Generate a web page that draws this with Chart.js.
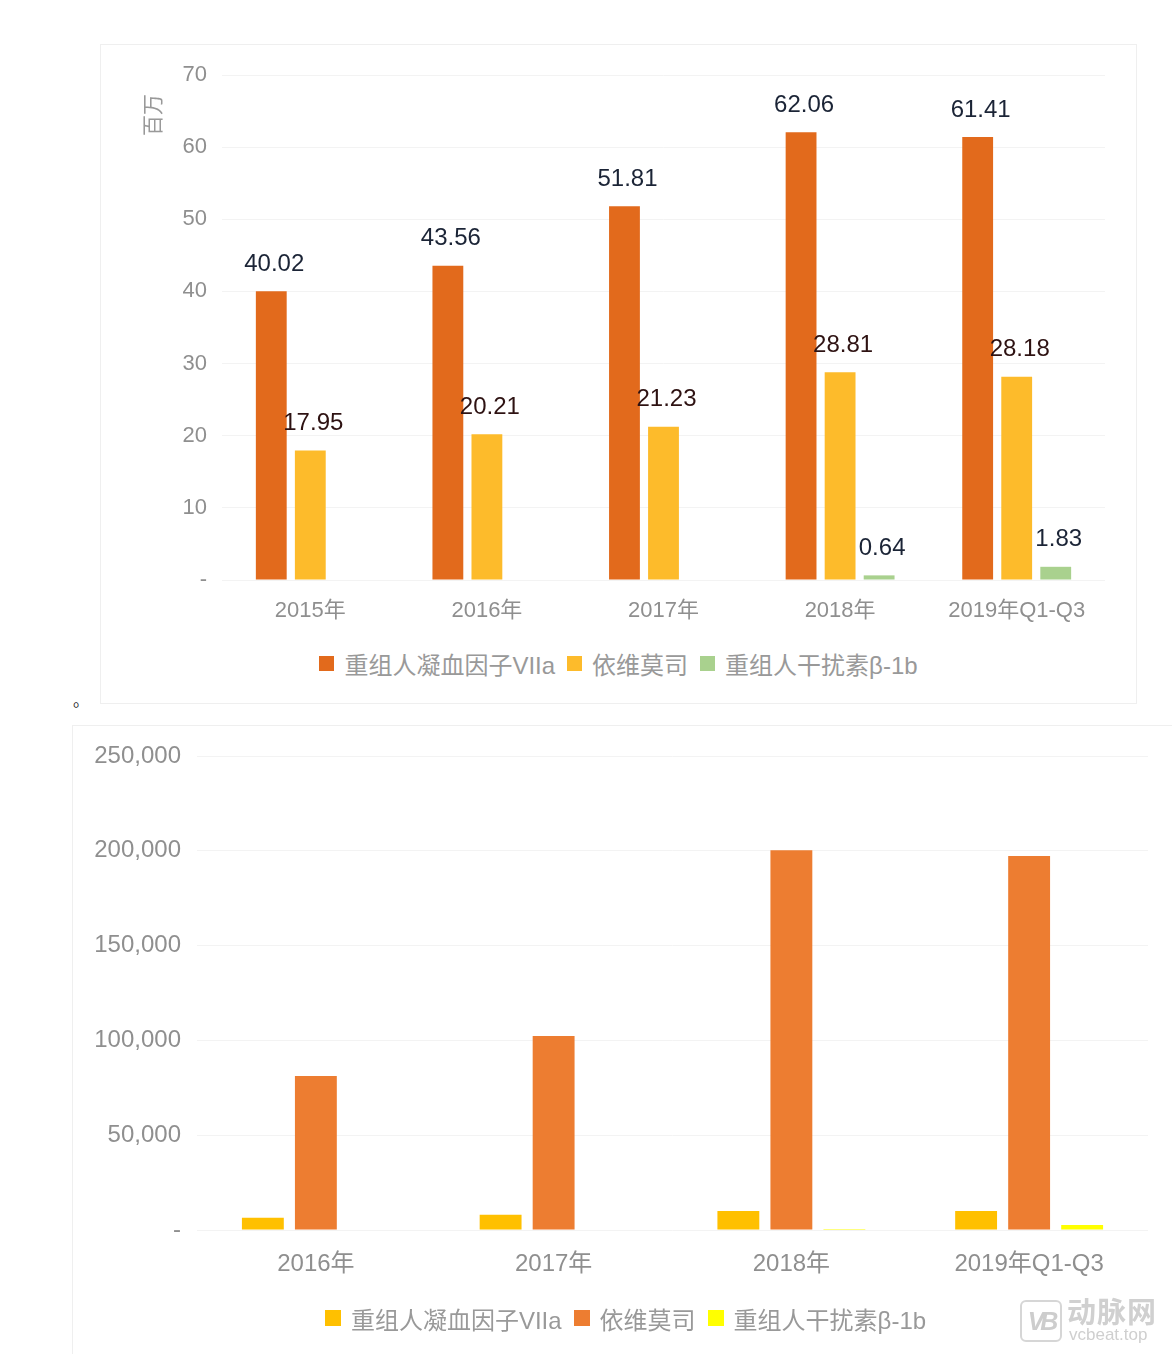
<!DOCTYPE html>
<html>
<head>
<meta charset="utf-8">
<script src="https://cdn.jsdelivr.net/npm/chart.js@4"></script>
<style>
    html, body { margin: 0; padding: 0; background: #fff; width: 1172px; height: 1354px; overflow: hidden; position: relative; font-family: "Liberation Sans", Arial, "Noto Sans CJK SC", sans-serif; }
    .box { position: absolute; border: 1px solid #efefef; box-sizing: border-box; }
    .wrap { position: absolute; }
    .legend-list { position: absolute; display: flex; justify-content: center; align-items: center; color: #999; }
    .legend-list li { list-style: none; display: flex; align-items: center; white-space: nowrap; }
    .legend-list .box-c { display: inline-block; }
    .dot { position: absolute; left: 73px; top: 687px; font-size: 16px; color: #222; font-family: "Noto Sans CJK SC", sans-serif; }
    .mark { position: absolute; left: 1020px; top: 1299px; width: 150px; height: 44px; color: #cfcfcf; }
    .mark .logo { position: absolute; left: 0; top: 1px; width: 42px; height: 42px; border: 2px solid #d6d6d6; border-radius: 6px; box-sizing: border-box; font: bold italic 25px "Liberation Sans", sans-serif; color: #cdcdcd; text-align: center; line-height: 38px; letter-spacing: -4px; }
    .mark .cn { position: absolute; left: 47px; top: -10px; font: bold 29px "Noto Sans CJK SC", sans-serif; color: #d0d0d0; letter-spacing: 1px; }
    .mark .en { position: absolute; left: 49px; top: 26px; font: 17px "Liberation Sans", sans-serif; color: #cfcfcf; }
</style>
</head>
<body>
<div class="box" style="left:100px; top:44px; width:1037px; height:660px;"></div>
<div class="wrap" style="left:100px; top:44px; width:1037px; height:600px;"><canvas id="topChart"></canvas></div>
<ul class="legend-list top" style="left:100px; top:648px; width:1037px; height:30px; margin:0; padding:0; font-size:24px;"></ul>

<span class="dot">。</span>

<div class="box" style="left:72px; top:725px; width:1107px; height:660px;"></div>
<div class="wrap" style="left:72px; top:725px; width:1100px; height:580px;"><canvas id="bottomChart"></canvas></div>
<ul class="legend-list bottom" style="left:72px; top:1303px; width:1107px; height:30px; margin:0; padding:0; font-size:24px;"></ul>

<div class="mark"><div class="logo">VB</div><div class="cn">动脉网</div><div class="en">vcbeat.top</div></div>

<script>
// 상단 차트 데이터 (백만)
const topLabels = ['2015年', '2016年', '2017年', '2018年', '2019年Q1-Q3'];
const topFactor7 = [40.02, 43.56, 51.81, 62.06, 61.41];
const topEverolimus = [17.95, 20.21, 21.23, 28.81, 28.18];
const topInterferon = [null, null, null, 0.64, 1.83];
const topSeriesNames = ['重组人凝血因子VIIa', '依维莫司', '重组人干扰素β-1b'];
const topTicks = [0, 10, 20, 30, 40, 50, 60, 70];

// 하단 차트 데이터
const bottomLabels = ['2016年', '2017年', '2018年', '2019年Q1-Q3'];
const bottomFactor7 = [6500, 8100, 10000, 10000];
const bottomEverolimus = [81200, 102300, 200300, 197300];
const bottomInterferon = [null, null, 500, 2600];
const bottomSeriesNames = ['重组人凝血因子VIIa', '依维莫司', '重组人干扰素β-1b'];
const bottomTicks = [0, 50000, 100000, 150000, 200000, 250000];

const topColors = ['#E26A1C', '#FDBB2B', '#A9D18E'];
const topLabelColors = ['#1b2436', '#2e1212', '#1b2436'];
const bottomColors = ['#FFC000', '#ED7D31', '#FFFF00'];

const tickGrey = '#8f8f8f';

// 막대 위 값 표시
const valueLabelPlugin = {
    id: 'valueLabels',
    afterDatasetsDraw(chart) {
        const ctx = chart.ctx;
        chart.data.datasets.forEach((ds, i) => {
            const meta = chart.getDatasetMeta(i);
            meta.data.forEach((bar, j) => {
                const v = ds.data[j];
                if (v === null || v === undefined) return;
                ctx.save();
                ctx.font = '24px "Liberation Sans", Arial, sans-serif';
                ctx.fillStyle = topLabelColors[i];
                ctx.textAlign = 'center';
                ctx.textBaseline = 'middle';
                ctx.fillText(v.toFixed(2), bar.x + 3, bar.y - 27);
                ctx.restore();
            });
        });
    }
};

// 세로축 단위 (百万)
const unitTitlePlugin = {
    id: 'unitTitle',
    afterDraw(chart) {
        const ctx = chart.ctx;
        ctx.save();
        ctx.translate(52, 71);
        ctx.rotate(-Math.PI / 2);
        ctx.font = '21px "Noto Sans CJK SC", sans-serif';
        ctx.fillStyle = '#999';
        ctx.textAlign = 'center';
        ctx.textBaseline = 'middle';
        ctx.fillText('百万', 0, 0);
        ctx.restore();
    }
};

function buildLegend(selector, names, colors, boxSize) {
    const list = document.querySelector(selector);
    list.innerHTML = '';
    names.forEach((name, index) => {
        const li = document.createElement('li');
        const box = document.createElement('span');
        box.className = 'box-c';
        box.style.width = boxSize + 'px';
        box.style.height = boxSize + 'px';
        box.style.backgroundColor = colors[index];
        box.style.marginRight = '10px';
        const title = document.createElement('span');
        title.innerText = name;
        title.style.fontFamily = '"Liberation Sans", Arial, "Noto Sans CJK SC", sans-serif';
        li.appendChild(box);
        li.appendChild(title);
        if (index < names.length - 1) li.style.marginRight = '12px';
        list.appendChild(li);
    });
}

Chart.defaults.font.family = '"Liberation Sans", Arial, "Noto Sans CJK SC", sans-serif';
Chart.defaults.animation = false;

new Chart(document.getElementById('topChart'), {
    type: 'bar',
    data: {
        labels: topLabels,
        datasets: [
            { label: topSeriesNames[0], data: topFactor7, backgroundColor: topColors[0] },
            { label: topSeriesNames[1], data: topEverolimus, backgroundColor: topColors[1] },
            { label: topSeriesNames[2], data: topInterferon, backgroundColor: topColors[2] },
        ],
    },
    options: {
        responsive: true,
        maintainAspectRatio: false,
        layout: { padding: { top: 31, right: 32, left: 0, bottom: 0 } },
        datasets: { bar: { categoryPercentage: 0.663, barPercentage: 0.79 } },
        plugins: { legend: { display: false }, tooltip: { enabled: false } },
        scales: {
            x: {
                grid: { display: false },
                border: { display: false },
                ticks: { color: tickGrey, font: { size: 22 }, padding: 10, maxRotation: 0 },
                afterFit: scale => { scale.height = 64; },
            },
            y: {
                min: 0,
                max: 70,
                afterBuildTicks: scale => { scale.ticks = topTicks.map(v => ({ value: v })); },
                grid: { color: '#f3f3f3', drawTicks: false, lineWidth: 1 },
                border: { display: false },
                ticks: {
                    color: tickGrey,
                    font: { size: 22 },
                    padding: 15,
                    callback: value => value === 0 ? '-' : value,
                },
                afterFit: scale => { scale.width = 122; },
            },
        },
    },
    plugins: [valueLabelPlugin, unitTitlePlugin],
});

new Chart(document.getElementById('bottomChart'), {
    type: 'bar',
    data: {
        labels: bottomLabels,
        datasets: [
            { label: bottomSeriesNames[0], data: bottomFactor7, backgroundColor: bottomColors[0] },
            { label: bottomSeriesNames[1], data: bottomEverolimus, backgroundColor: bottomColors[1] },
            { label: bottomSeriesNames[2], data: bottomInterferon, backgroundColor: bottomColors[2] },
        ],
    },
    options: {
        responsive: true,
        maintainAspectRatio: false,
        layout: { padding: { top: 31, right: 24, left: 0, bottom: 0 } },
        datasets: { bar: { categoryPercentage: 0.669, barPercentage: 0.79 } },
        plugins: { legend: { display: false }, tooltip: { enabled: false } },
        scales: {
            x: {
                grid: { display: false },
                border: { display: false },
                ticks: { color: tickGrey, font: { size: 24 }, padding: 12, maxRotation: 0 },
                afterFit: scale => { scale.height = 75; },
            },
            y: {
                min: 0,
                max: 250000,
                afterBuildTicks: scale => { scale.ticks = bottomTicks.map(v => ({ value: v })); },
                grid: { color: '#f3f3f3', drawTicks: false, lineWidth: 1 },
                border: { display: false },
                ticks: {
                    color: tickGrey,
                    font: { size: 24 },
                    padding: 16,
                    callback: value => value === 0 ? '-' : value.toLocaleString('en-US'),
                },
                afterFit: scale => { scale.width = 125; },
            },
        },
    },
});

buildLegend('.legend-list.top', topSeriesNames, topColors, 15);
buildLegend('.legend-list.bottom', bottomSeriesNames, bottomColors, 16);
</script>
</body>
</html>
